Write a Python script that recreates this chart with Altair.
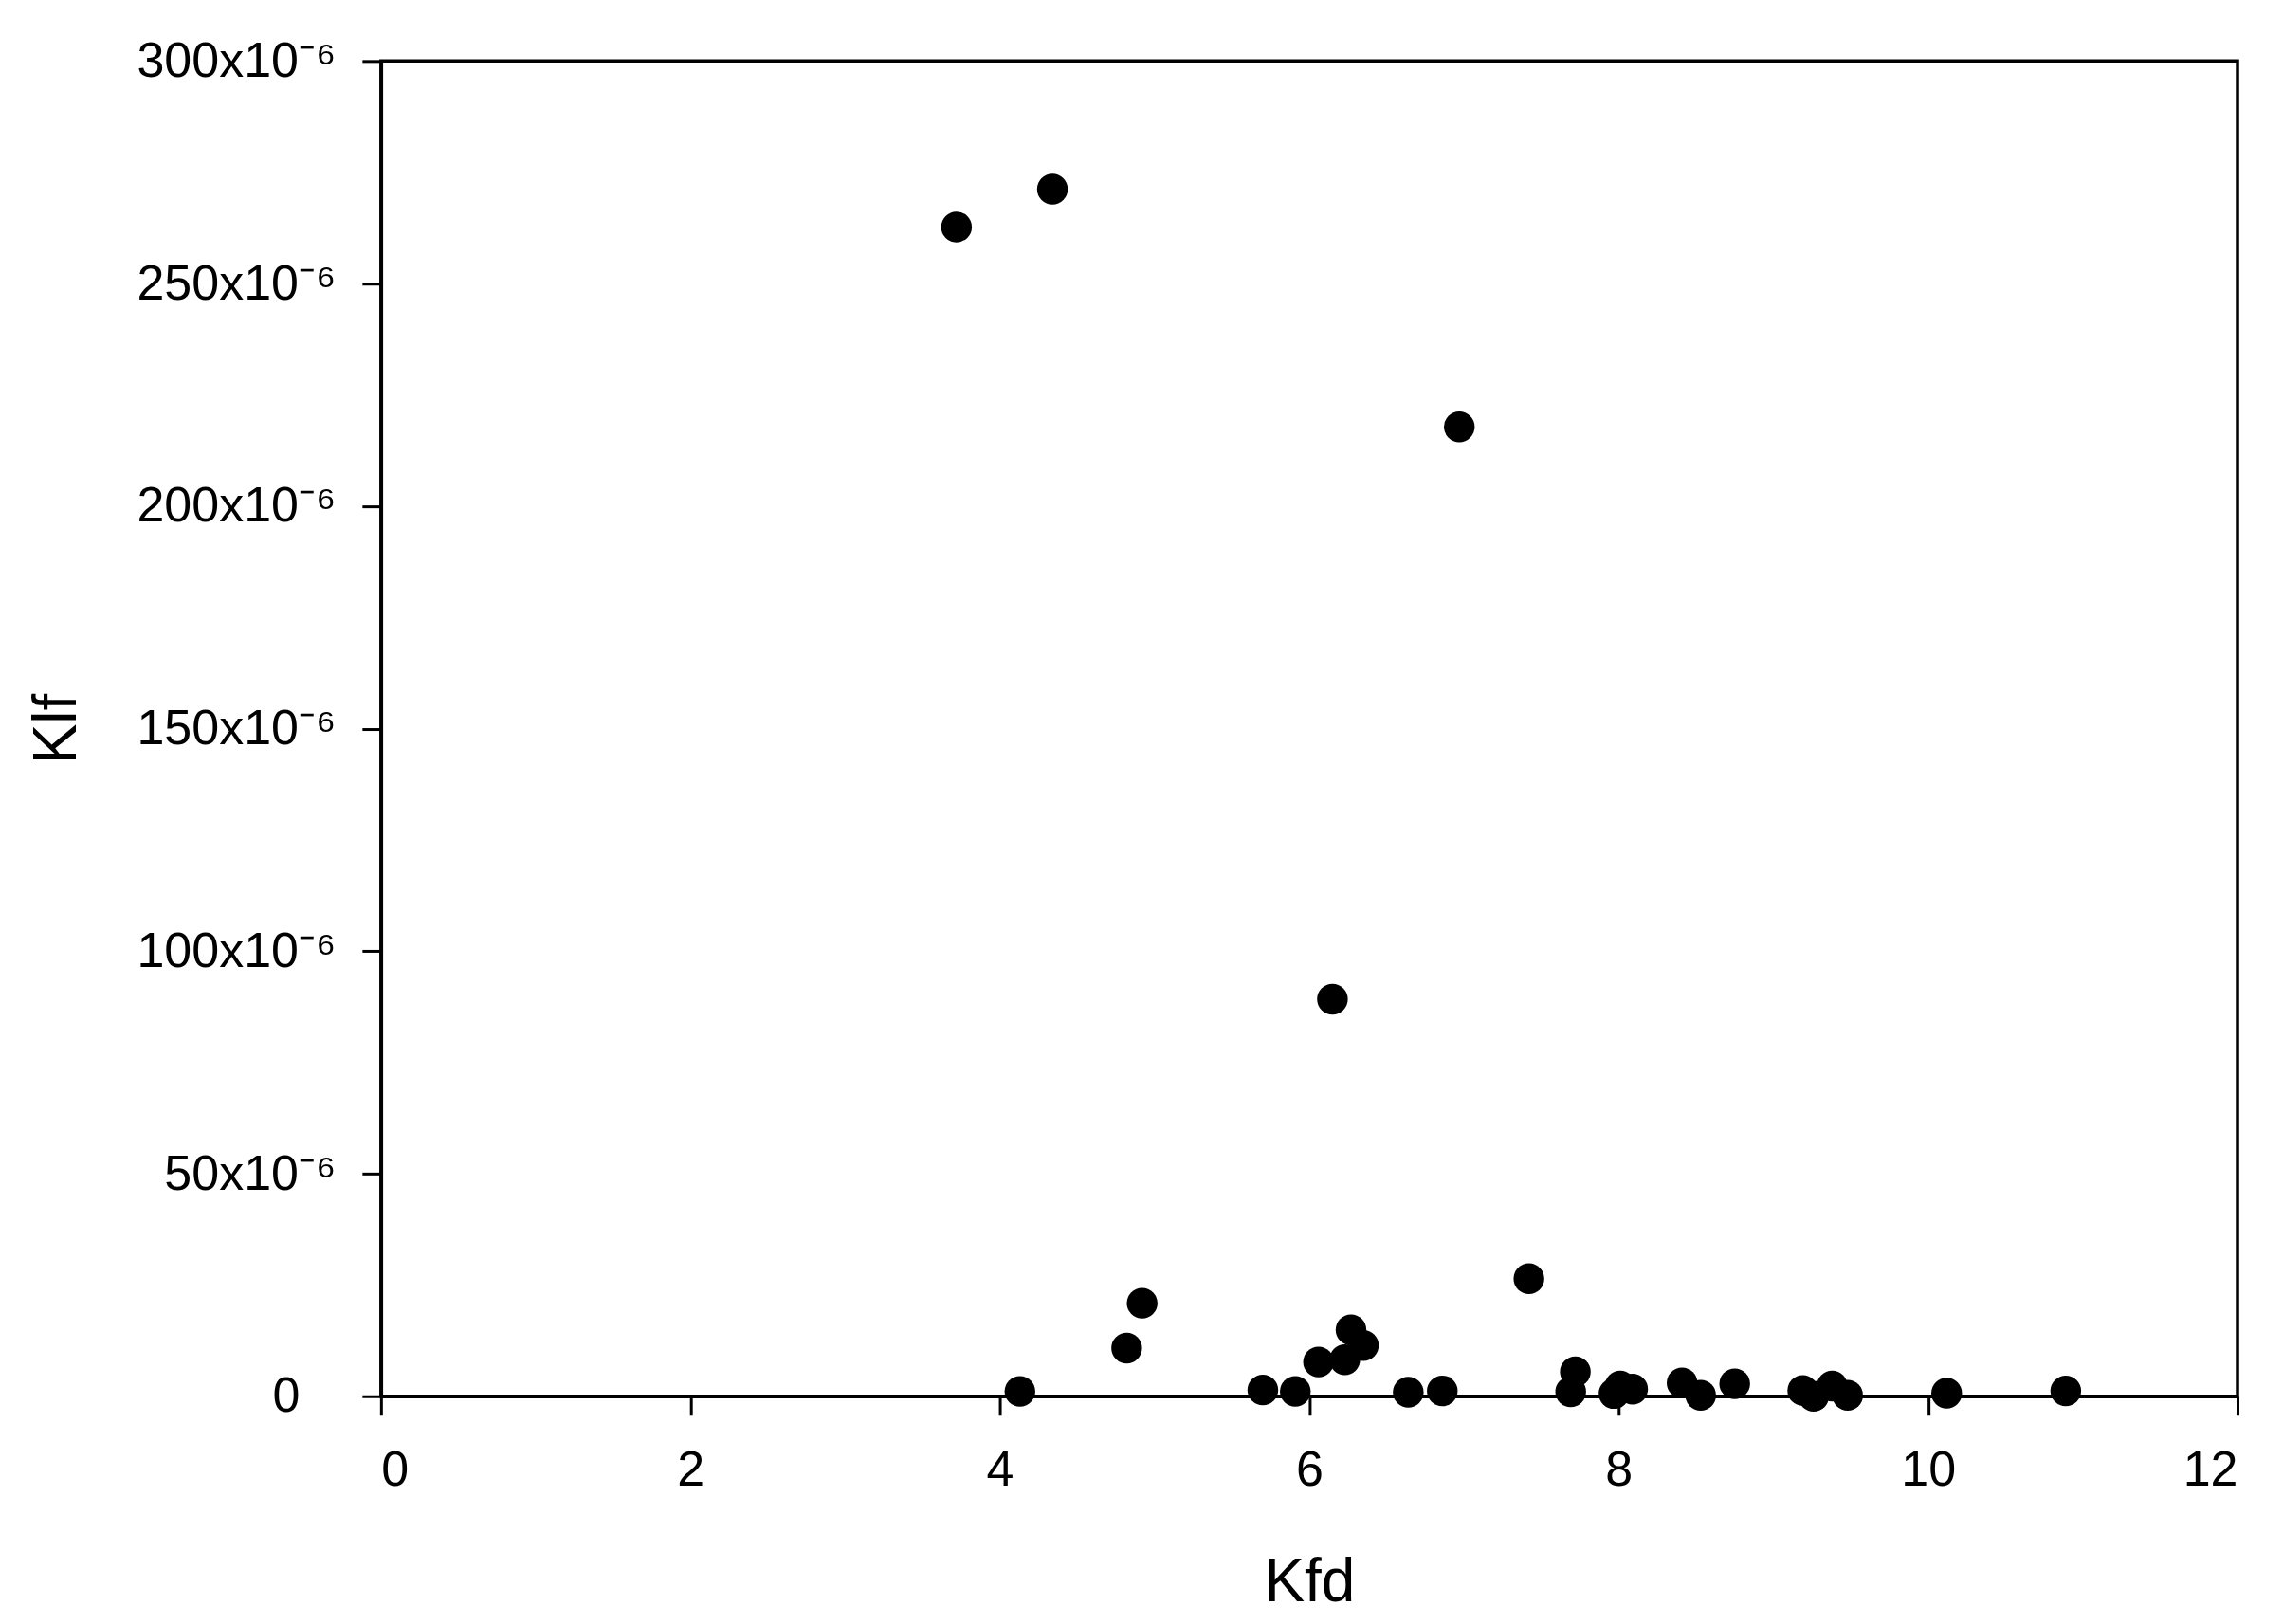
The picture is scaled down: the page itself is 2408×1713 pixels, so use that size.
import altair as alt
import pandas as pd

# Kfd (x) and Klf (y) values
kfd = [3.72, 4.34, 6.97, 6.15, 7.42, 4.92, 4.82, 4.13, 5.70, 5.91,
       6.06, 6.23, 6.27, 6.35, 6.64, 6.86, 7.69, 7.72, 7.97, 8.01,
       8.09, 8.41, 8.53, 8.75, 9.19, 9.26, 9.38, 9.48, 10.12, 10.89]
klf = [262.7e-6, 271.2e-6, 217.8e-6, 89.2e-6, 26.4e-6, 20.9e-6, 10.8e-6, 1.1e-6, 1.4e-6, 1.1e-6,
       7.7e-6, 8.2e-6, 14.9e-6, 11.4e-6, 0.9e-6, 1.2e-6, 1.0e-6, 5.5e-6, 0.6e-6, 2.3e-6,
       1.6e-6, 3.0e-6, 0.2e-6, 2.8e-6, 1.3e-6, 0.0e-6, 2.3e-6, 0.2e-6, 0.7e-6, 1.2e-6]

x_ticks = [0, 2, 4, 6, 8, 10, 12]
y_ticks = [0, 50e-6, 100e-6, 150e-6, 200e-6, 250e-6, 300e-6]

df = pd.DataFrame({"Kfd": kfd, "Klf": klf})

FONT = "Liberation Sans"
W, H = 1959, 1409

chart = alt.Chart(df).mark_circle(size=1050, color="black", opacity=1).encode(
    x=alt.X("Kfd:Q",
            scale=alt.Scale(domain=[0, 12], nice=False, zero=False),
            axis=alt.Axis(values=x_ticks, title="Kfd", grid=False,
                          labelFont=FONT, labelFontSize=52, labelColor="black",
                          labelLimit=0,
                          labelPadding=33, tickSize=20, tickWidth=3, tickColor="black",
                          domainColor="black", domainWidth=3.5,
                          titleFont=FONT, titleFontSize=64, titleFontWeight="normal",
                          titleColor="black", titleBaseline="alphabetic",
                          titleX=W / 2, titleY=216, titleAnchor="middle")),
    y=alt.Y("Klf:Q",
            scale=alt.Scale(domain=[0, 300e-6], nice=False, zero=False),
            axis=alt.Axis(values=y_ticks, title="Klf", grid=False,
                          labelExpr="datum.value == 0 ? '0\u2800' : format(round(datum.value * 1e6), 'd') + 'x10\u207b\u2076'",
                          labelFont=FONT, labelFontSize=52, labelColor="black",
                          labelLimit=0,
                          labelPadding=28,
                          tickSize=20, tickWidth=3, tickColor="black",
                          domainColor="black", domainWidth=3.5,
                          titleFont=FONT, titleFontSize=64, titleFontWeight="normal",
                          titleColor="black", titleBaseline="alphabetic",
                          titleAngle=270, titleAlign="center",
                          titleX=-322, titleY=H / 2)),
).properties(
    width=W, height=H,
    autosize="none",
    background="white",
    padding={"left": 394, "top": 56, "right": 40, "bottom": 232},
).configure_view(
    stroke="black", strokeWidth=3.5
)

chart.save("out.html", embed_options={"renderer": "svg", "actions": False})
